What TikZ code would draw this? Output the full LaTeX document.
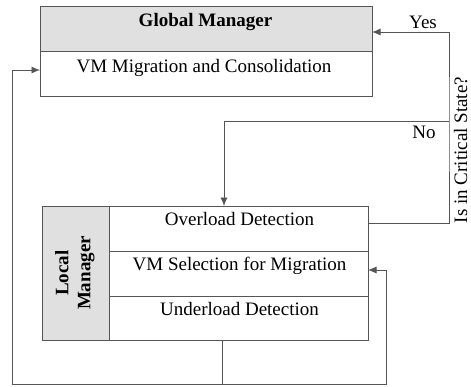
\documentclass[tikz,border=0pt]{standalone}
\usepackage{fontspec}
\setmainfont{Liberation Serif}
\usetikzlibrary{arrows.meta}
\definecolor{wirecol}{HTML}{555555}
\definecolor{headfill}{HTML}{E0E0E0}
\tikzset{
  cell/.style={draw=wirecol, line width=0.8pt, rectangle, inner sep=0pt, outer sep=0pt, fill=white},
  head/.style={cell, fill=headfill},
  txt/.style={inner sep=0pt, font=\fontsize{19}{21}\selectfont},
  wire/.style={draw=wirecol, line width=0.8pt},
  arr/.style={wire, -{Latex[length=8.5pt,width=7pt]}}
}
\begin{document}
\begin{tikzpicture}[x=1pt, y=-1pt]
\useasboundingbox (0,0) rectangle (471,386);

% Global manager block
\node[head, minimum width=332pt, minimum height=45pt] (gmhead) at (206,28.5) {};
\node[cell, minimum width=332pt, minimum height=45pt] (gmbody) at (206,73.5) {};
\node[txt, anchor=base] (gmtitle) at (205.5,26) {\bfseries Global Manager};
\node[txt, anchor=base] (gmtask) at (204,72) {VM Migration and Consolidation};

% Local manager block
\node[head, minimum width=67pt, minimum height=134pt] (lmside) at (75.5,273) {};
\node[cell, minimum width=259pt, minimum height=45pt] (ovl) at (238.5,228.5) {};
\node[cell, minimum width=259pt, minimum height=45pt] (sel) at (238.5,273.5) {};
\node[cell, minimum width=259pt, minimum height=44pt] (udl) at (238.5,318) {};
\node[txt, rotate=90, align=center, font=\fontsize{19}{22}\selectfont\bfseries] (lmtitle) at (75,273) {Local\\Manager};
\node[txt, anchor=base] (ovltext) at (239.5,225) {Overload Detection};
\node[txt, anchor=base] (seltext) at (239.5,270) {VM Selection for Migration};
\node[txt, anchor=base] (udltext) at (239.5,315) {Underload Detection};

% Decision branch and feedback loops
\coordinate (crit) at (449,121);
\coordinate (bl) at (12,384);
\coordinate (br) at (386,384);

\draw[arr] ([yshift=5.5pt]ovl.east) -| (crit) |- ([yshift=-3.5pt]gmhead.east);
\draw[arr] (crit) -| ([xshift=-14.5pt]ovl.north);
\draw[arr] ([xshift=-16.5pt]udl.south) |- (bl) |- ([yshift=3.5pt]gmbody.west);
\draw[arr] ([xshift=-16.5pt]udl.south) |- (br) |- ([yshift=3.5pt]sel.east);

\node[txt, anchor=base] (yes) at (423,28) {Yes};
\node[txt, anchor=base] (no) at (424,138) {No};
\node[txt, rotate=90, anchor=base] (crittext) at (467,150) {Is in Critical State?};
\end{tikzpicture}
\end{document}
